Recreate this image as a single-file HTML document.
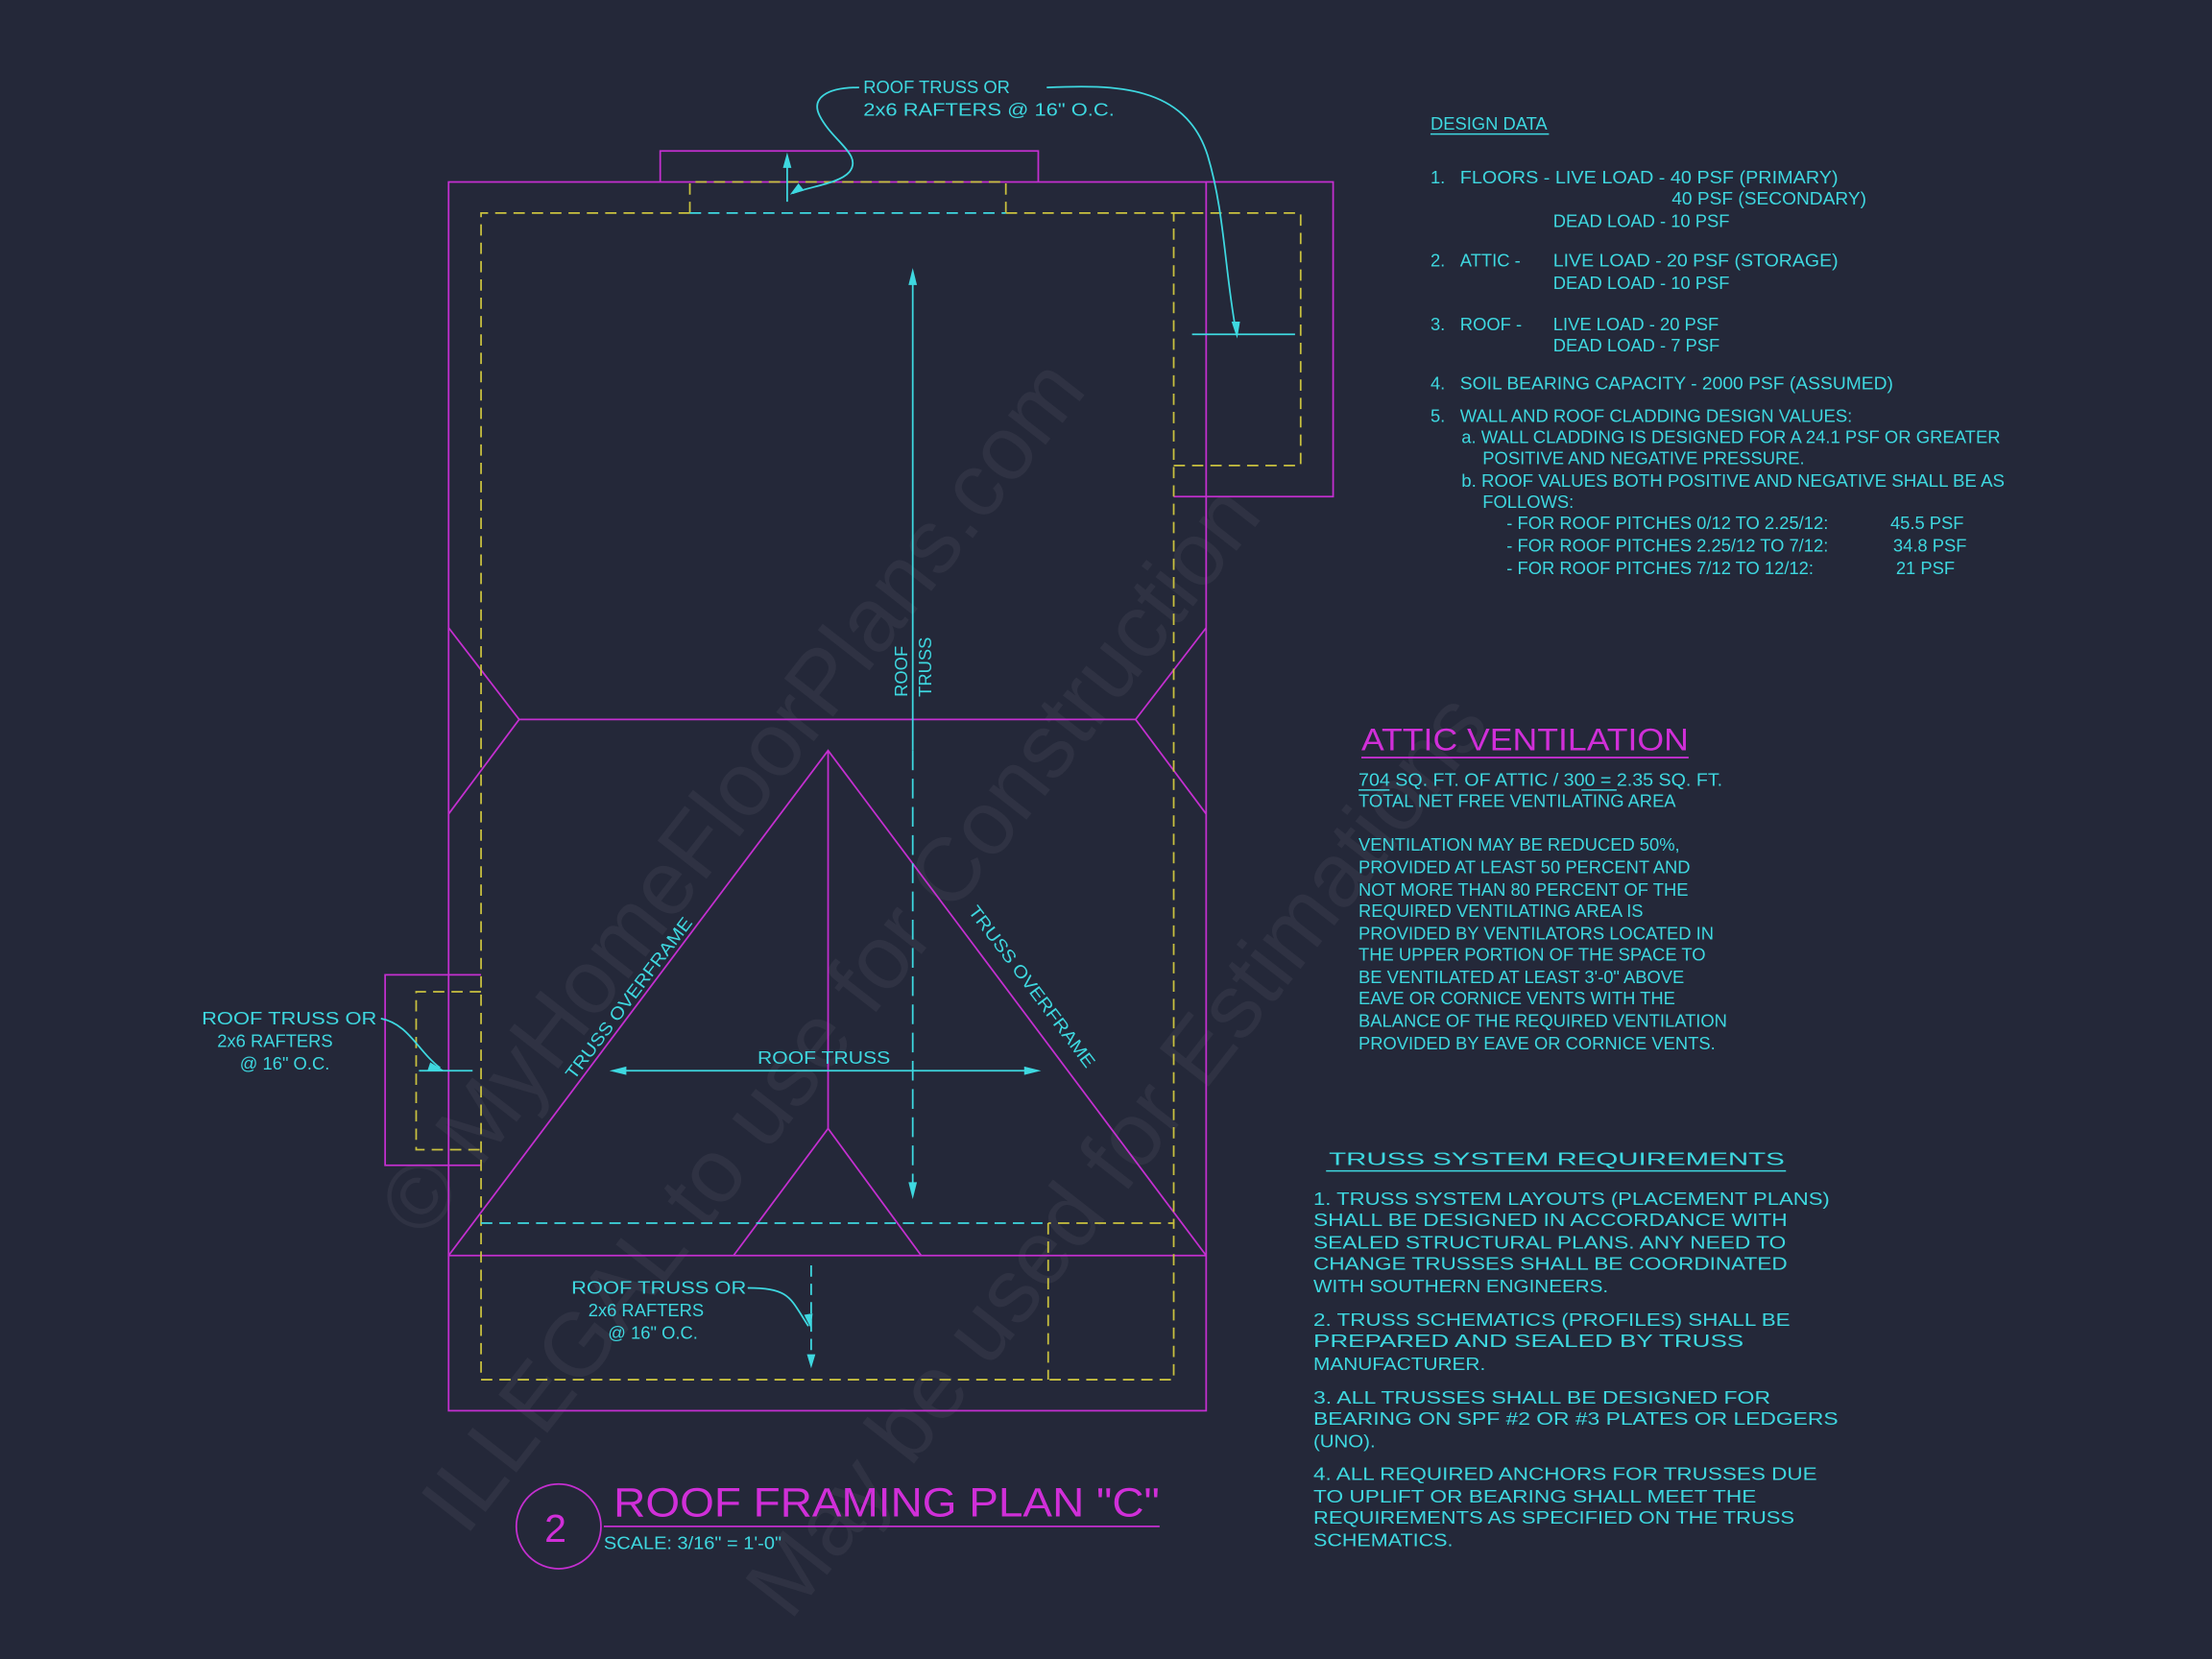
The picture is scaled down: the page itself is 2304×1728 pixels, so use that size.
<!DOCTYPE html>
<html><head><meta charset="utf-8"><style>
html,body{margin:0;padding:0;background:#242839;}
svg{display:block}
text{font-family:"Liberation Sans",sans-serif;}
.c{fill:#3ed8e0;font-size:12.5px;}
</style></head><body>
<svg width="2304" height="1728" viewBox="0 0 1568 1176" xmlns="http://www.w3.org/2000/svg">
<rect width="1568" height="1176" fill="#242839"/>
<!-- watermark -->
<g fill="#ffffff" fill-opacity="0.05" font-family="Liberation Serif, serif" font-size="64">
<text transform="translate(300,880) rotate(-52)">© MyHomeFloorPlans.com</text>
<text transform="translate(330,1090) rotate(-52)">ILLEGAL to use for Construction</text>
<text transform="translate(560,1150) rotate(-52)">May be used for Estimations</text>
</g>
<g fill="none" stroke-width="1.2">
<g stroke="#c42fd0">
<rect x="318" y="129" width="537" height="871"/>
<polyline points="468,129 468,107 736,107 736,129"/>
<polyline points="855,129 945,129 945,352 832,352"/>
<polyline points="341,691 273,691 273,826 341,826"/>
<polyline points="318,445 368,510 318,577"/>
<polyline points="855,445 805,510 855,577"/>
<line x1="368" y1="510" x2="805" y2="510"/>
<polyline points="318,890 587,532 855,890"/>
<line x1="318" y1="890" x2="855" y2="890"/>
<line x1="587" y1="532" x2="587" y2="800"/>
<polyline points="520,890 587,800 653,890"/>
</g>
<g stroke="#c9c13f" stroke-dasharray="8,5">
<polyline points="489,151 489,129 713,129 713,151"/>
<polyline points="489,151 341,151 341,978 832,978 832,867 743,867"/>
<polyline points="713,151 832,151 832,867"/>
<line x1="743" y1="867" x2="743" y2="978"/>
<polyline points="832,151 922,151 922,330 832,330"/>
<polyline points="341,703 295,703 295,815 341,815"/>
</g>
<g stroke="#3ed8e0">
<line x1="489" y1="151" x2="713" y2="151" stroke-dasharray="8,5"/>
<line x1="341" y1="867" x2="743" y2="867" stroke-dasharray="8,5"/>
<line x1="647" y1="195" x2="647" y2="532"/>
<line x1="647" y1="532" x2="647" y2="845" stroke-dasharray="14,6"/>
<line x1="438" y1="759" x2="732" y2="759"/>
<line x1="558" y1="112" x2="558" y2="143"/>
<path d="M609,62 C585,62 575,70 581,82 C590,100 612,110 602,122 C595,130 575,132 562,137"/>
<path d="M742,62 C790,60 840,60 856,110 C868,150 868,190 876,234"/>
<line x1="845" y1="237" x2="918" y2="237"/>
<path d="M270,722 C290,726 296,745 312,757"/>
<line x1="297" y1="759" x2="335" y2="759"/>
<path d="M530,913 C560,913 560,920 573,940"/>
<line x1="575" y1="897" x2="575" y2="965" stroke-dasharray="8,5"/>
</g>
</g>
<g fill="#3ed8e0">
<polygon points="647,190 644,202 650,202"/>
<polygon points="647,850 644,838 650,838"/>
<polygon points="432,759 444,756 444,762"/>
<polygon points="738,759 726,756 726,762"/>
<polygon points="558,108 555,119 561,119"/>
<polygon points="560,138 566,130 570,135"/>
<polygon points="877,240 873,228 879,228"/>
<polygon points="315,759 305,753 303,759"/>
<polygon points="575,942 570,932 576,931"/>
<polygon points="575,970 572,960 578,960"/>
</g>
<text class="c" x="612" y="66">ROOF TRUSS OR</text>
<text class="c" x="612" y="82" textLength="178" lengthAdjust="spacingAndGlyphs">2x6 RAFTERS @ 16" O.C.</text>
<text class="c" x="143" y="726" textLength="124" lengthAdjust="spacingAndGlyphs">ROOF TRUSS OR</text>
<text class="c" x="154" y="742">2x6 RAFTERS</text>
<text class="c" x="170" y="758">@ 16" O.C.</text>
<text class="c" x="405" y="917" textLength="124" lengthAdjust="spacingAndGlyphs">ROOF TRUSS OR</text>
<text class="c" x="417" y="933">2x6 RAFTERS</text>
<text class="c" x="431" y="949">@ 16" O.C.</text>
<text class="c" x="537" y="754" textLength="94" lengthAdjust="spacingAndGlyphs">ROOF TRUSS</text>
<text class="c" transform="translate(643,494) rotate(-90)">ROOF</text>
<text class="c" transform="translate(660,494) rotate(-90)">TRUSS</text>
<text class="c" transform="translate(407,766) rotate(-53)" textLength="140" lengthAdjust="spacingAndGlyphs">TRUSS OVERFRAME</text>
<text class="c" transform="translate(686,646) rotate(53)" textLength="140" lengthAdjust="spacingAndGlyphs">TRUSS OVERFRAME</text>
<circle cx="396" cy="1082" r="30" fill="none" stroke="#c42fd0" stroke-width="1.2"/>
<text x="386" y="1093" font-size="28" fill="#d02fd8">2</text>
<text x="435" y="1075" font-size="29" fill="#d02fd8" textLength="387" lengthAdjust="spacingAndGlyphs">ROOF FRAMING PLAN "C"</text>
<line x1="428" y1="1082" x2="822" y2="1082" stroke="#c42fd0" stroke-width="1.2"/>
<text class="c" x="428" y="1098" font-size="12" textLength="126" lengthAdjust="spacingAndGlyphs">SCALE: 3/16" = 1'-0"</text>
<g>
<text class="c" x="1014" y="92" font-size="12">DESIGN DATA</text>
<line x1="1014" y1="95" x2="1098" y2="95" stroke="#3ed8e0"/>
<text class="c" x="1014" y="130">1.</text><text class="c" x="1035" y="130" textLength="268" lengthAdjust="spacingAndGlyphs">FLOORS - LIVE LOAD - 40 PSF (PRIMARY)</text>
<text class="c" x="1185" y="145" textLength="138" lengthAdjust="spacingAndGlyphs">40 PSF (SECONDARY)</text>
<text class="c" x="1101" y="161">DEAD LOAD - 10 PSF</text>
<text class="c" x="1014" y="189">2.</text><text class="c" x="1035" y="189">ATTIC  -</text><text class="c" x="1101" y="189" textLength="202" lengthAdjust="spacingAndGlyphs">LIVE LOAD - 20 PSF (STORAGE)</text>
<text class="c" x="1101" y="205">DEAD LOAD - 10 PSF</text>
<text class="c" x="1014" y="234">3.</text><text class="c" x="1035" y="234">ROOF  -</text><text class="c" x="1101" y="234">LIVE LOAD - 20 PSF</text>
<text class="c" x="1101" y="249">DEAD LOAD - 7 PSF</text>
<text class="c" x="1014" y="276">4.</text><text class="c" x="1035" y="276" textLength="307" lengthAdjust="spacingAndGlyphs">SOIL BEARING CAPACITY - 2000 PSF (ASSUMED)</text>
<text class="c" x="1014" y="299">5.</text><text class="c" x="1035" y="299" textLength="278" lengthAdjust="spacingAndGlyphs">WALL AND ROOF CLADDING DESIGN VALUES:</text>
<text class="c" x="1036" y="314" textLength="382" lengthAdjust="spacingAndGlyphs">a. WALL CLADDING IS DESIGNED FOR A 24.1 PSF OR GREATER</text>
<text class="c" x="1051" y="329">POSITIVE AND NEGATIVE PRESSURE.</text>
<text class="c" x="1036" y="345" textLength="385" lengthAdjust="spacingAndGlyphs">b. ROOF VALUES BOTH POSITIVE AND NEGATIVE SHALL BE AS</text>
<text class="c" x="1051" y="360">FOLLOWS:</text>
<text class="c" x="1068" y="375">- FOR ROOF PITCHES 0/12 TO 2.25/12:</text><text class="c" x="1340" y="375">45.5 PSF</text>
<text class="c" x="1068" y="391">- FOR ROOF PITCHES 2.25/12 TO 7/12:</text><text class="c" x="1342" y="391">34.8 PSF</text>
<text class="c" x="1068" y="407">- FOR ROOF PITCHES 7/12 TO 12/12:</text><text class="c" x="1344" y="407">21 PSF</text>
</g>
<text x="965" y="532" font-size="22" fill="#d02fd8" textLength="232" lengthAdjust="spacingAndGlyphs">ATTIC VENTILATION</text>
<line x1="965" y1="537" x2="1197" y2="537" stroke="#c42fd0" stroke-width="1.2"/>
<text class="c" x="963" y="557" textLength="258" lengthAdjust="spacingAndGlyphs">704   SQ. FT. OF ATTIC / 300 = 2.35  SQ. FT.</text>
<line x1="963" y1="560" x2="985" y2="560" stroke="#3ed8e0"/>
<line x1="1121" y1="560" x2="1146" y2="560" stroke="#3ed8e0"/>
<text class="c" x="963" y="572">TOTAL NET FREE VENTILATING AREA</text>
<text class="c" x="963" y="603">VENTILATION MAY BE REDUCED 50%,</text>
<text class="c" x="963" y="619">PROVIDED AT LEAST 50 PERCENT AND</text>
<text class="c" x="963" y="635">NOT MORE THAN 80 PERCENT OF THE</text>
<text class="c" x="963" y="650">REQUIRED VENTILATING AREA IS</text>
<text class="c" x="963" y="666">PROVIDED BY VENTILATORS LOCATED IN</text>
<text class="c" x="963" y="681">THE UPPER PORTION OF THE SPACE TO</text>
<text class="c" x="963" y="697">BE VENTILATED AT LEAST 3'-0" ABOVE</text>
<text class="c" x="963" y="712">EAVE OR CORNICE VENTS WITH THE</text>
<text class="c" x="963" y="728">BALANCE OF THE REQUIRED VENTILATION</text>
<text class="c" x="963" y="744">PROVIDED BY EAVE OR CORNICE VENTS.</text>
<text class="c" x="942" y="826" font-size="17" textLength="323" lengthAdjust="spacingAndGlyphs">TRUSS SYSTEM REQUIREMENTS</text>
<line x1="940" y1="830" x2="1266" y2="830" stroke="#3ed8e0"/>
<g>
<text class="c" x="931" y="854" font-size="13" textLength="366" lengthAdjust="spacingAndGlyphs">1. TRUSS SYSTEM LAYOUTS (PLACEMENT PLANS)</text>
<text class="c" x="931" y="869" font-size="13" textLength="336" lengthAdjust="spacingAndGlyphs">SHALL BE DESIGNED IN ACCORDANCE WITH</text>
<text class="c" x="931" y="885" font-size="13" textLength="335" lengthAdjust="spacingAndGlyphs">SEALED STRUCTURAL PLANS. ANY NEED TO</text>
<text class="c" x="931" y="900" font-size="13" textLength="336" lengthAdjust="spacingAndGlyphs">CHANGE TRUSSES SHALL BE COORDINATED</text>
<text class="c" x="931" y="916" font-size="13" textLength="209" lengthAdjust="spacingAndGlyphs">WITH SOUTHERN ENGINEERS.</text>
<text class="c" x="931" y="940" font-size="13" textLength="338" lengthAdjust="spacingAndGlyphs">2. TRUSS SCHEMATICS (PROFILES) SHALL BE</text>
<text class="c" x="931" y="955" font-size="13" textLength="305" lengthAdjust="spacingAndGlyphs">PREPARED AND SEALED BY TRUSS</text>
<text class="c" x="931" y="971" font-size="13" textLength="122" lengthAdjust="spacingAndGlyphs">MANUFACTURER.</text>
<text class="c" x="931" y="995" font-size="13" textLength="324" lengthAdjust="spacingAndGlyphs">3. ALL TRUSSES SHALL BE DESIGNED FOR</text>
<text class="c" x="931" y="1010" font-size="13" textLength="372" lengthAdjust="spacingAndGlyphs">BEARING ON SPF #2 OR #3 PLATES OR LEDGERS</text>
<text class="c" x="931" y="1026" font-size="13" textLength="44" lengthAdjust="spacingAndGlyphs">(UNO).</text>
<text class="c" x="931" y="1049" font-size="13" textLength="357" lengthAdjust="spacingAndGlyphs">4. ALL REQUIRED ANCHORS FOR TRUSSES DUE</text>
<text class="c" x="931" y="1065" font-size="13" textLength="314" lengthAdjust="spacingAndGlyphs">TO UPLIFT OR BEARING SHALL MEET THE</text>
<text class="c" x="931" y="1080" font-size="13" textLength="341" lengthAdjust="spacingAndGlyphs">REQUIREMENTS AS SPECIFIED ON THE TRUSS</text>
<text class="c" x="931" y="1096" font-size="13" textLength="99" lengthAdjust="spacingAndGlyphs">SCHEMATICS.</text>
</g>
</svg>
</body></html>
